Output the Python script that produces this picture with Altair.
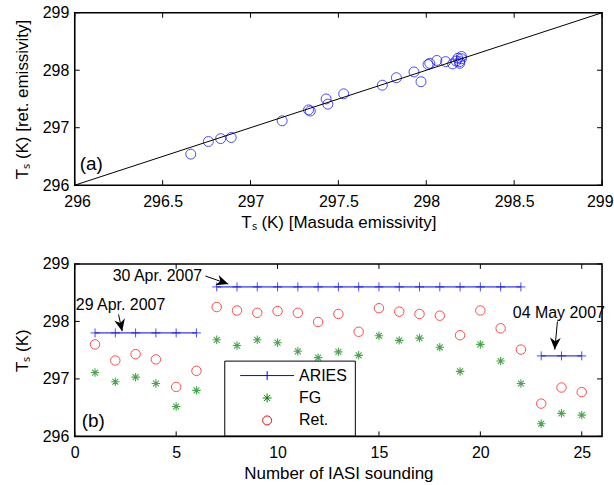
import altair as alt
import pandas as pd

FONT = "Liberation Sans"

# ---------------- panel (a): retrieved vs Masuda emissivity ----------------
masuda_ts = [296.66, 296.76, 296.83, 296.89, 297.18, 297.33, 297.34, 297.43, 297.44,
             297.53, 297.75, 297.83, 297.93, 297.97, 298.01, 298.02, 298.06, 298.11,
             298.15, 298.17, 298.18, 298.19, 298.20, 298.20, 298.19]
retrieved_ts = [296.54, 296.76, 296.81, 296.83, 297.12, 297.31, 297.29, 297.50, 297.41,
                297.59, 297.74, 297.87, 297.97, 297.80, 298.10, 298.12, 298.17, 298.15,
                298.11, 298.16, 298.21, 298.12, 298.20, 298.24, 298.15]
one_to_one = [296, 299]
a_xticks = [296, 296.5, 297, 297.5, 298, 298.5, 299]
a_yticks = [296, 297, 298, 299]

# ---------------- panel (b): per IASI sounding ----------------
sounding = [1, 2, 3, 4, 5, 6, 7, 8, 9, 10, 11, 12, 13, 14, 15, 16, 17, 18, 19, 20, 21, 22, 23, 24, 25]
ret_ts = [297.60, 297.32, 297.43, 297.34, 296.86, 297.14, 298.25, 298.19, 298.15, 298.18,
          298.15, 297.99, 298.13, 297.82, 298.23, 298.17, 298.13, 298.10, 297.76, 298.19,
          297.88, 297.51, 296.57, 296.85, 296.77]
fg_ts = [297.11, 296.95, 297.03, 296.92, 296.52, 296.80, 297.68, 297.58, 297.68, 297.63,
         297.48, 297.37, 297.47, 297.41, 297.75, 297.67, 297.71, 297.55, 297.13, 297.60,
         297.31, 296.92, 296.22, 296.40, 296.37]
aries_ts = [297.8, 297.8, 297.8, 297.8, 297.8, 297.8,
            298.6, 298.6, 298.6, 298.6, 298.6, 298.6, 298.6, 298.6, 298.6, 298.6, 298.6,
            298.6, 298.6, 298.6, 298.6, 298.6,
            297.4, 297.4, 297.4]
aries_day = ["29 Apr"] * 6 + ["30 Apr"] * 16 + ["04 May"] * 3
b_xticks = [0, 5, 10, 15, 20, 25]
b_yticks = [296, 297, 298, 299]

legend_names = ["ARIES", "FG", "Ret."]
legend_colors = ["#0000ff", "#008000", "#ff0000"]

ann_text = ["29 Apr. 2007", "30 Apr. 2007", "04 May 2007"]
ann_x = [0.05, 1.87, 21.6]
ann_y = [298.29, 298.79, 298.15]
arrow_x = [2.16, 6.44, 23.80]
arrow_y = [298.12, 298.79, 298.00]
arrow_x2 = [2.34, 7.57, 23.67]
arrow_y2 = [297.83, 298.65, 297.51]
arrow_angle = [77.5, 19, 92.7]

panel_label = ["(a)", "(b)"]
panel_label_x = [296.094, 0.91]
panel_label_y = [296.376, 296.27]

# ---------------- styles ----------------
W, H = 529, 173
TICK = 5
CROSS = "M-1,0L1,0M0,-1L0,1"
STAR = "M0,-1L0,1M-1,0L1,0M-0.7,-0.7L0.7,0.7M-0.7,0.7L0.7,-0.7"
ARIES_LEG = "M-6,0L6,0M0,-1L0,1"
ARROW = "M0,0L-2,-0.9L-1.4,0L-2,0.9Z"


def ax(values, title, fmt, lp, tp, flush=False, flush_offset=0):
    return alt.Axis(values=values, title=title, format=fmt, ticks=False, domain=False,
                    grid=False, labelPadding=lp, titlePadding=tp, labelColor="black",
                    titleColor="black", labelFontSize=16, titleFontSize=17,
                    titleFontWeight="normal", labelFont=FONT, titleFont=FONT,
                    labelFlush=flush, labelFlushOffset=flush_offset, labelOverlap=False)


def inner_ticks(xvals, yvals, xs, ys, xax, yax):
    xt = pd.DataFrame({"tx": xvals})
    yt = pd.DataFrame({"ty": yvals})
    rx = alt.Chart(xt).mark_rule(color="black", strokeWidth=1)
    ry = alt.Chart(yt).mark_rule(color="black", strokeWidth=1)
    xa = alt.X("tx:Q", scale=xs, axis=xax)
    ya = alt.Y("ty:Q", scale=ys, axis=yax)
    return [
        rx.encode(x=xa, y=alt.value(H), y2=alt.value(H - TICK)),
        rx.encode(x=xa, y=alt.value(0), y2=alt.value(TICK)),
        ry.encode(y=ya, x=alt.value(0), x2=alt.value(TICK)),
        ry.encode(y=ya, x=alt.value(W), x2=alt.value(W - TICK)),
    ]


# ---------------- panel (a) ----------------
xs_a = alt.Scale(domain=[296, 299], nice=False, zero=False)
ys_a = alt.Scale(domain=[296, 299], nice=False, zero=False)
xax_a = ax(a_xticks, "Tₛ  (K) [Masuda emissivity]", "~g", 8, 5, True, 11)
yax_a = ax(a_yticks, "Tₛ  (K) [ret. emissivity]", "d", 6, 11)
df_a = pd.DataFrame({"m": masuda_ts, "r": retrieved_ts})
df_line = pd.DataFrame({"m": one_to_one, "r": one_to_one})

pts_a = alt.Chart(df_a).mark_point(shape="circle", size=100, color="#0000ff",
                                     strokeWidth=1, filled=False).encode(
    x=alt.X("m:Q", scale=xs_a, axis=xax_a),
    y=alt.Y("r:Q", scale=ys_a, axis=yax_a),
)
line_a = alt.Chart(df_line).mark_line(color="black", strokeWidth=1).encode(
    x=alt.X("m:Q", scale=xs_a, axis=xax_a), y=alt.Y("r:Q", scale=ys_a, axis=yax_a))
lab_a = alt.Chart(pd.DataFrame({"t": [panel_label[0]], "x": [panel_label_x[0]],
                                "y": [panel_label_y[0]]})).mark_text(
    fontSize=19, font=FONT, color="black", align="center", baseline="middle").encode(
    x=alt.X("x:Q", scale=xs_a, axis=xax_a), y=alt.Y("y:Q", scale=ys_a, axis=yax_a), text="t:N")

panel_a = alt.layer(pts_a, line_a, lab_a,
                    *inner_ticks(a_xticks, a_yticks, xs_a, ys_a, xax_a, yax_a)).properties(
    width=W, height=H)

# ---------------- panel (b) ----------------
xs_b = alt.Scale(domain=[0, 26], nice=False, zero=False)
ys_b = alt.Scale(domain=[296, 299], nice=False, zero=False)
xax_b = ax(b_xticks, "Number of IASI sounding", "d", 8, 5)
yax_b = ax(b_yticks, "Tₛ  (K)", "d", 6, 11)
df_b = pd.DataFrame({"n": sounding, "ret": ret_ts, "fg": fg_ts, "aries": aries_ts, "day": aries_day})


def bx(f):
    return alt.X(f, scale=xs_b, axis=xax_b)


def by(f):
    return alt.Y(f, scale=ys_b, axis=yax_b)


aries_line = alt.Chart(df_b).mark_line(color="#0000ff", strokeWidth=1).encode(
    x=bx("n:Q"), y=by("aries:Q"), detail="day:N")
aries_pts = alt.Chart(df_b).mark_point(shape=CROSS, size=81, color="#0000ff", strokeWidth=1,
                                       filled=False).encode(x=bx("n:Q"), y=by("aries:Q"))
fg_pts = alt.Chart(df_b).mark_point(shape=STAR, size=72, color="#008000", strokeWidth=1.1,
                                    filled=False).encode(x=bx("n:Q"), y=by("fg:Q"))
ret_pts = alt.Chart(df_b).mark_point(shape="circle", size=90, color="#ff0000", strokeWidth=1,
                                     filled=False).encode(x=bx("n:Q"), y=by("ret:Q"))

df_arrow = pd.DataFrame({"x": arrow_x, "y": arrow_y, "x2": arrow_x2, "y2": arrow_y2,
                         "ang": arrow_angle})
arrow_rule = alt.Chart(df_arrow).mark_rule(color="black", strokeWidth=1).encode(
    x=bx("x:Q"), y=by("y:Q"), x2="x2:Q", y2="y2:Q")
arrow_head = alt.Chart(df_arrow).mark_point(shape=ARROW, size=144, color="black", filled=True,
                                            opacity=1).encode(
    x=bx("x2:Q"), y=by("y2:Q"), angle=alt.Angle("ang:Q", scale=None))
df_ann = pd.DataFrame({"t": ann_text, "x": ann_x, "y": ann_y})
ann = alt.Chart(df_ann).mark_text(fontSize=16, font=FONT, color="black", align="left",
                                  baseline="middle").encode(x=bx("x:Q"), y=by("y:Q"), text="t:N")
lab_b = alt.Chart(pd.DataFrame({"t": [panel_label[1]], "x": [panel_label_x[1]],
                                "y": [panel_label_y[1]]})).mark_text(
    fontSize=19, font=FONT, color="black", align="center", baseline="middle").encode(
    x=bx("x:Q"), y=by("y:Q"), text="t:N")

leg = alt.Legend(title=None, orient="none", legendX=150, legendY=97, strokeColor="black",
                 fillColor="white", padding=7, symbolSize=81, symbolStrokeWidth=1,
                 symbolOffset=28, labelOffset=24, rowPadding=6.5, labelFontSize=16,
                 labelFont=FONT, labelColor="black", symbolOpacity=1)
df_leg = pd.DataFrame({"series": legend_names})
legend_layer = alt.Chart(df_leg).mark_point(filled=False, clip=True, strokeWidth=1).encode(
    x=alt.value(-200), y=alt.value(-200),
    color=alt.Color("series:N", scale=alt.Scale(domain=legend_names, range=legend_colors),
                    legend=leg, sort=legend_names),
    shape=alt.Shape("series:N", scale=alt.Scale(domain=legend_names,
                                                range=[ARIES_LEG, STAR, "circle"]),
                    legend=leg, sort=legend_names),
)

panel_b = alt.layer(aries_line, aries_pts, fg_pts, ret_pts, arrow_rule, arrow_head, ann, lab_b,
                    legend_layer,
                    *inner_ticks(b_xticks, b_yticks, xs_b, ys_b, xax_b, yax_b)).properties(
    width=W, height=H)

chart = alt.vconcat(panel_a, panel_b, spacing=24).resolve_scale(
    color="independent", shape="independent"
).resolve_legend(color="independent", shape="independent").properties(
    padding={"left": 12, "top": 3, "right": 0, "bottom": 5}, background="white"
).configure(font=FONT).configure_view(stroke="black", strokeWidth=1.6)

chart.save("out.html", embed_options={"renderer": "svg", "actions": False})
